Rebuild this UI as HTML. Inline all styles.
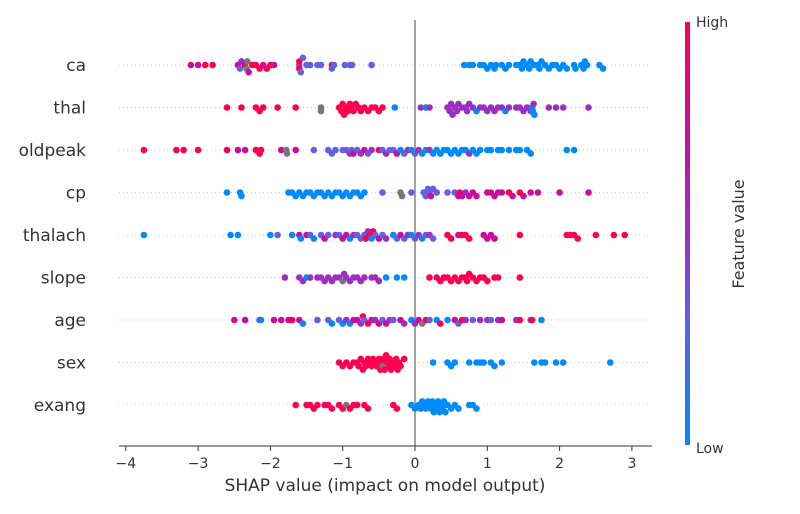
<!DOCTYPE html>
<html><head><meta charset="utf-8"><style>
body{margin:0;background:#fff;}
svg text{font-family:"DejaVu Sans","Liberation Sans",sans-serif;fill:#333;}
</style></head><body>
<svg id="chart" width="800" height="509" viewBox="0 0 800 509" xmlns="http://www.w3.org/2000/svg">
<defs><linearGradient id="cb" x1="0" y1="1" x2="0" y2="0">
<stop offset="0" stop-color="#008bfb"/><stop offset="0.3" stop-color="#6460e0"/><stop offset="0.5" stop-color="#9b30c0"/><stop offset="0.75" stop-color="#cc0c9a"/><stop offset="1" stop-color="#ff0051"/></linearGradient></defs>
<g id="grid"></g>
<line x1="415" y1="20" x2="415" y2="446" stroke="#999" stroke-width="1.8"/>
<g id="dots"></g>
<line x1="119" y1="446" x2="652" y2="446" stroke="#333" stroke-width="1"/>
<g id="ticks"></g>
<text x="385" y="491" font-size="17" text-anchor="middle">SHAP value (impact on model output)</text>
<rect x="685" y="22" width="5" height="423" fill="url(#cb)"/>
<text x="696" y="27" font-size="14">High</text>
<text x="696" y="453" font-size="14">Low</text>
<text x="744" y="234" font-size="16" text-anchor="middle" transform="rotate(-90 744 234)">Feature value</text>
</svg>
<script>
const features=["ca","thal","oldpeak","cp","thalach","slope","age","sex","exang"];
const xTicks=[-4,-3,-2,-1,0,1,2,3];
const ca=[[-3.1,.75],[-3.0,.75],[-2.9,1],[-2.8,1],[-2.45,.75],[-2.42,.3],[-2.4,.5],[-2.35,1],[-2.33,-1],[-2.32,-1],[-2.3,.75],[-2.25,1],[-2.2,1],[-2.15,1],[-2.1,.75],[-2.05,1],[-2.0,1],[-1.95,.75],[-1.6,.3],[-1.6,1],[-1.6,1],[-1.58,.3],[-1.55,.3],[-1.5,.3],[-1.45,.3],[-1.35,.3],[-1.3,.3],[-1.15,1],[-1.15,.3],[-1.12,.3],[-0.97,.3],[-0.9,.3],[-0.87,.3],[-0.6,.3],[0.68,0],[0.75,0],[0.8,0],[0.9,0],[0.95,0],[1.0,0],[1.05,0],[1.1,0],[1.12,0],[1.2,0],[1.25,0],[1.3,0],[1.4,0],[1.45,0],[1.48,0],[1.5,0],[1.55,0],[1.58,0],[1.6,0],[1.65,0],[1.7,0],[1.72,0],[1.75,0],[1.8,0],[1.85,0],[1.9,0],[1.95,0],[2.0,0],[2.05,0],[2.1,0],[2.2,0],[2.22,0],[2.3,0],[2.33,0],[2.35,0],[2.38,0],[2.55,0],[2.6,0]];
const thal=[[-2.6,1],[-2.4,1],[-2.2,1],[-2.15,1],[-2.1,1],[-1.9,1],[-1.65,1],[-1.3,-1],[-1.3,-1],[-1.05,1],[-1.02,1],[-1.0,1],[-0.98,1],[-0.95,1],[-0.93,1],[-0.9,1],[-0.88,1],[-0.85,1],[-0.82,1],[-0.78,1],[-0.75,1],[-0.7,1],[-0.65,1],[-0.6,1],[-0.55,1],[-0.5,1],[-0.45,1],[-0.28,0],[0.08,.5],[0.15,0],[0.2,.5],[0.45,.5],[0.48,.5],[0.5,.5],[0.52,.5],[0.55,.5],[0.58,.5],[0.6,.5],[0.65,.5],[0.7,.5],[0.72,.5],[0.75,.5],[0.8,.5],[0.85,0],[0.9,.5],[0.95,.5],[1.0,.5],[1.05,.5],[1.1,.5],[1.15,.5],[1.2,.5],[1.25,0],[1.3,.5],[1.4,.5],[1.45,.5],[1.5,.5],[1.55,.5],[1.6,.5],[1.62,0],[1.63,0],[1.64,.5],[1.65,0],[1.85,.5],[1.95,.5],[2.05,.5],[2.4,.5]];
const oldpeak=[[-3.75,1],[-3.3,1],[-3.2,1],[-3.0,1],[-2.6,1],[-2.45,.75],[-2.35,.75],[-2.2,1],[-2.15,1],[-2.13,1],[-1.85,.75],[-1.78,-1],[-1.77,-1],[-1.65,.75],[-1.4,.3],[-1.2,.3],[-1.15,.3],[-1.1,.3],[-1.0,.3],[-0.95,.3],[-0.9,.5],[-0.88,.3],[-0.85,.75],[-0.8,.3],[-0.75,.5],[-0.7,.75],[-0.65,.3],[-0.6,.5],[-0.5,1],[-0.45,.3],[-0.4,.5],[-0.35,.3],[-0.3,.3],[-0.25,.75],[-0.2,0],[-0.15,.3],[-0.1,.5],[-0.05,0],[0.0,.3],[0.05,.5],[0.1,0],[0.15,0],[0.2,.5],[0.25,0],[0.3,0],[0.35,0],[0.4,0],[0.45,0],[0.5,0],[0.55,0],[0.6,0],[0.65,0],[0.7,0],[0.75,.5],[0.8,0],[0.85,0],[0.9,0],[1.0,0],[1.05,0],[1.15,0],[1.2,0],[1.3,0],[1.4,0],[1.45,0],[1.55,0],[1.6,0],[2.1,0],[2.2,0]];
const cp=[[-2.6,0],[-2.42,0],[-2.4,0],[-1.75,0],[-1.7,0],[-1.65,0],[-1.6,0],[-1.55,0],[-1.5,0],[-1.45,0],[-1.4,0],[-1.35,0],[-1.3,0],[-1.25,0],[-1.2,0],[-1.15,0],[-1.1,0],[-1.05,0],[-1.0,0],[-0.95,0],[-0.9,0],[-0.85,0],[-0.8,0],[-0.75,0],[-0.7,0],[-0.45,.3],[-0.2,-1],[-0.18,-1],[-0.05,.3],[0.12,.3],[0.15,.3],[0.18,.3],[0.2,.3],[0.22,.75],[0.25,.3],[0.3,.3],[0.45,.3],[0.55,.3],[0.6,.75],[0.62,1],[0.65,.75],[0.7,.5],[0.75,.75],[0.8,.75],[0.85,.75],[1.0,.75],[1.05,.75],[1.1,.75],[1.15,.75],[1.2,.75],[1.3,1],[1.35,.75],[1.45,1],[1.5,.75],[1.6,.75],[1.7,.75],[2.0,.75],[2.4,.75]];
const thalach=[[-3.75,0],[-2.55,0],[-2.45,0],[-2.0,0],[-1.9,.3],[-1.7,0],[-1.6,.75],[-1.58,0],[-1.5,.75],[-1.45,.3],[-1.4,0],[-1.3,.3],[-1.25,.75],[-1.2,.3],[-1.1,.5],[-1.05,.3],[-1.0,.75],[-0.95,.75],[-0.9,0],[-0.85,.5],[-0.8,.3],[-0.75,.3],[-0.7,.3],[-0.68,1],[-0.65,.5],[-0.62,1],[-0.6,0],[-0.58,1],[-0.55,.3],[-0.5,.75],[-0.45,.3],[-0.4,.5],[-0.3,0],[-0.25,.3],[-0.2,.75],[-0.15,.3],[-0.1,.5],[-0.05,0],[0.0,.3],[0.05,.5],[0.1,0],[0.15,.3],[0.2,.5],[0.25,.3],[0.45,1],[0.5,1],[0.6,.75],[0.65,1],[0.7,1],[0.75,1],[0.95,.75],[1.0,.75],[1.05,.75],[1.1,.75],[1.45,1],[2.1,1],[2.15,1],[2.2,1],[2.25,1],[2.5,1],[2.75,1],[2.9,1]];
const slope=[[-1.8,.5],[-1.6,.5],[-1.55,.5],[-1.5,0],[-1.45,.5],[-1.35,.5],[-1.3,.5],[-1.25,.5],[-1.2,.5],[-1.15,.5],[-1.1,.5],[-1.05,.5],[-1.0,-1],[-0.98,.5],[-0.95,.5],[-0.9,.5],[-0.85,.5],[-0.8,.5],[-0.75,.5],[-0.7,.5],[-0.6,.5],[-0.55,.5],[-0.5,.5],[-0.4,0],[-0.25,0],[-0.15,0],[0.2,1],[0.3,1],[0.35,1],[0.4,1],[0.45,1],[0.5,1],[0.55,1],[0.6,1],[0.65,1],[0.7,1],[0.72,1],[0.75,1],[0.8,1],[0.85,1],[0.9,1],[0.95,1],[1.0,1],[1.1,1],[1.15,1],[1.45,1]];
const age=[[-2.5,.75],[-2.35,.75],[-2.15,.5],[-2.13,0],[-1.95,.75],[-1.85,.75],[-1.75,.75],[-1.7,1],[-1.6,.75],[-1.55,0],[-1.35,.3],[-1.2,.3],[-1.15,0],[-1.05,.3],[-1.0,0],[-0.95,.5],[-0.9,0],[-0.85,.75],[-0.8,.75],[-0.75,.5],[-0.72,1],[-0.7,.3],[-0.65,1],[-0.6,.75],[-0.55,.5],[-0.5,.75],[-0.45,.3],[-0.4,.75],[-0.35,.5],[-0.3,.3],[-0.2,.75],[-0.15,.5],[-0.05,0],[0.0,.5],[0.05,.75],[0.1,-1],[0.15,1],[0.2,.3],[0.3,0],[0.35,1],[0.45,0],[0.55,.75],[0.6,.3],[0.65,1],[0.7,.5],[0.8,.3],[0.9,.5],[1.0,.5],[1.05,.3],[1.15,.5],[1.2,.75],[1.4,.5],[1.45,1],[1.6,.5],[1.62,1],[1.75,0]];
const sex=[[-1.05,1],[-1.0,1],[-0.95,1],[-0.9,1],[-0.85,1],[-0.8,1],[-0.78,1],[-0.75,1],[-0.72,1],[-0.7,1],[-0.68,1],[-0.65,1],[-0.62,1],[-0.6,1],[-0.58,1],[-0.55,1],[-0.53,1],[-0.5,1],[-0.48,1],[-0.46,1],[-0.45,-1],[-0.44,1],[-0.42,1],[-0.4,1],[-0.38,1],[-0.36,1],[-0.35,1],[-0.33,1],[-0.3,1],[-0.28,1],[-0.26,1],[-0.24,1],[-0.22,1],[-0.2,1],[-0.15,1],[0.25,0],[0.45,0],[0.5,0],[0.55,0],[0.75,0],[0.85,0],[0.9,0],[0.95,0],[1.05,0],[1.1,0],[1.2,0],[1.65,0],[1.75,0],[1.8,0],[1.95,0],[2.05,0],[2.7,0]];
const exang=[[-1.65,1],[-1.5,1],[-1.45,1],[-1.4,1],[-1.35,1],[-1.25,1],[-1.2,1],[-1.15,1],[-1.05,1],[-1.0,1],[-0.95,-1],[-0.9,1],[-0.85,1],[-0.8,1],[-0.7,1],[-0.65,1],[-0.3,1],[-0.25,1],[-0.05,0],[0.0,0],[0.05,0],[0.08,0],[0.1,0],[0.12,0],[0.15,0],[0.18,0],[0.2,0],[0.22,0],[0.24,0],[0.26,0],[0.28,0],[0.3,0],[0.32,0],[0.34,0],[0.36,0],[0.38,0],[0.4,0],[0.42,0],[0.45,0],[0.5,0],[0.55,0],[0.6,0],[0.75,0],[0.8,0],[0.85,0]];
const rowData=[ca,thal,oldpeak,cp,thalach,slope,age,sex,exang];

const NS="http://www.w3.org/2000/svg";
const x0=415, unit=72.3, rowY0=65, rowStep=42.5;
function xScale(v){return x0+v*unit;}
function yRow(i){return rowY0+i*rowStep;}
const stops=[[0,[0,139,251]],[0.3,[100,96,224]],[0.5,[155,48,192]],[0.75,[204,12,154]],[1,[255,0,81]]];
function colorOf(c){
  if(c<0) return "#777777";
  for(let i=1;i<stops.length;i++){
    if(c<=stops[i][0]){const a=stops[i-1],b=stops[i];const t=(c-a[0])/(b[0]-a[0]);
      return "rgb("+a[1].map((v,k)=>Math.round(v+(b[1][k]-v)*t)).join(",")+")";}
  }
  return "rgb(255,0,81)";
}
const grid=document.getElementById("grid"), dots=document.getElementById("dots"), ticks=document.getElementById("ticks"), svg=document.getElementById("chart");
features.forEach((f,i)=>{
  const y=yRow(i);
  const gl=document.createElementNS(NS,"line");
  gl.setAttribute("x1",119);gl.setAttribute("x2",650);gl.setAttribute("y1",y);gl.setAttribute("y2",y);
  gl.setAttribute("stroke","#ccc");gl.setAttribute("stroke-dasharray","1,3");
  
  
  grid.appendChild(gl);
  const t=document.createElementNS(NS,"text");
  t.setAttribute("x",86);t.setAttribute("y",y+6);t.setAttribute("text-anchor","end");t.setAttribute("font-size","17");
  t.textContent=f;
  
  
  svg.appendChild(t);
  const bins={};
  rowData[i].forEach(p=>{
    const px=xScale(p[0]);
    const b=Math.round(px/6);
    const n=bins[b]||0; bins[b]=n+1;
    const off=(n===0)?0:((n%2===1)?1:-1)*Math.ceil(n/2)*3.6;
    const c=document.createElementNS(NS,"circle");
    c.setAttribute("cx",px.toFixed(1));c.setAttribute("cy",(y+off).toFixed(1));c.setAttribute("r",3.3);
    c.setAttribute("fill",colorOf(p[1]));
    
    
    dots.appendChild(c);
  });
});
xTicks.forEach(v=>{
  const x=xScale(v);
  const l=document.createElementNS(NS,"line");
  l.setAttribute("x1",x);l.setAttribute("x2",x);l.setAttribute("y1",446);l.setAttribute("y2",451);l.setAttribute("stroke","#333");
  
  
  ticks.appendChild(l);
  const t=document.createElementNS(NS,"text");
  t.setAttribute("x",x);t.setAttribute("y",468);t.setAttribute("text-anchor","middle");t.setAttribute("font-size","14");
  t.textContent=(v<0?"\u2212"+(-v):String(v));
  
  
  ticks.appendChild(t);
});
</script>
</body></html>
